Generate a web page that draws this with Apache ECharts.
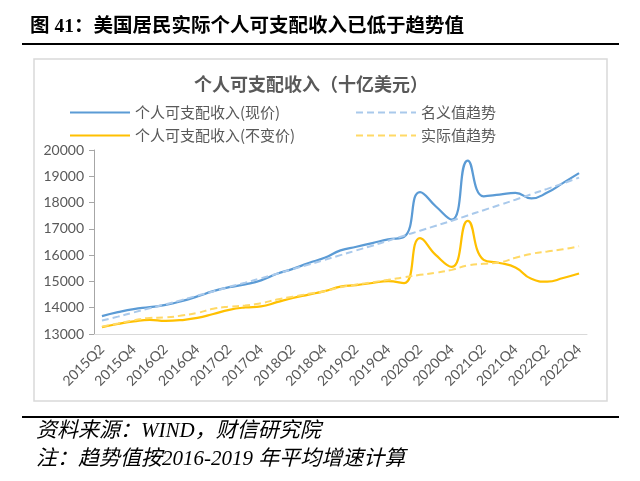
<!DOCTYPE html>
<html><head><meta charset="utf-8">
<script src="https://cdn.jsdelivr.net/npm/echarts@6/dist/echarts.min.js"></script>
<style>html,body{margin:0;padding:0;background:#fff}#c{width:640px;height:481px}</style>
</head><body><div id="c"></div>
<script>
const categories = ['2015Q2','2015Q3','2015Q4','2016Q1','2016Q2','2016Q3','2016Q4','2017Q1','2017Q2','2017Q3','2017Q4',
  '2018Q1','2018Q2','2018Q3','2018Q4','2019Q1','2019Q2','2019Q3','2019Q4','2020Q1','2020Q2','2020Q3','2020Q4',
  '2021Q1','2021Q2','2021Q3','2021Q4','2022Q1','2022Q2','2022Q3','2022Q4'];
const nominal = [13680,13830,13950,14020,14110,14250,14430,14630,14780,14890,15040,15290,15480,15700,15900,16180,
  16320,16460,16600,16700,18400,17850,17350,19600,18240,18300,18370,18160,18380,18750,19120];
const nominalTrend = [13510,13660,13820,13980,14130,14290,14460,14620,14790,14950,15120,15290,15470,15640,15820,16000,
  16180,16360,16550,16740,16930,17120,17310,17510,17710,17910,18110,18320,18520,18730,18950];
const real = [13260,13380,13480,13540,13500,13530,13610,13760,13920,14010,14050,14210,14370,14500,14630,14800,
  14860,14940,15010,14940,16650,16000,15550,17300,15820,15700,15530,15100,14990,15130,15300];
const realTrend = [13280,13400,13520,13610,13630,13700,13800,13960,14040,14080,14170,14310,14420,14530,14630,14780,
  14880,14970,15060,15160,15250,15330,15440,15610,15670,15720,15900,16050,16140,16220,16340];
const yTicks = {min:13000, max:20000, step:1000};
const names = ['个人可支配收入(现价)','名义值趋势','个人可支配收入(不变价)','实际值趋势'];

const CJK = "'Noto Sans CJK SC'";
const serifFont = "'Liberation Serif','Noto Sans CJK SC'";
const legendText = {fontSize:15, color:'#595959', fontFamily:CJK};
const legendBase = {padding:0, itemWidth:60, itemHeight:14, textStyle:legendText, itemStyle:{opacity:0}};
const chart = echarts.init(document.getElementById('c'), null, {renderer:'canvas'});
const option = {
  animation:false,
  backgroundColor:'#fff',
  graphic:[
    {type:'rect', shape:{x:34,y:59,width:573,height:342}, style:{fill:'none', stroke:'#d9d9d9', lineWidth:1.5}, z:-1},
    {type:'text', left:30, top:17, style:{text:'图 41：美国居民实际个人可支配收入已低于趋势值', font:"bold 19.5px "+serifFont, fill:'#000'}},
    {type:'line', shape:{x1:22,y1:44,x2:619,y2:44}, style:{stroke:'#000', lineWidth:2.2}},
    {type:'line', shape:{x1:22,y1:417,x2:619,y2:417}, style:{stroke:'#000', lineWidth:2.2}},
    {type:'text', left:36, top:421, style:{text:'资料来源：WIND，财信研究院', font:"italic 21px "+serifFont, fill:'#000'}},
    {type:'text', left:36, top:449, style:{text:'注：趋势值按2016-2019 年平均增速计算', font:"italic 21px "+serifFont, fill:'#000'}}
  ],
  title:{text:'个人可支配收入（十亿美元）', left:194, top:75, padding:0,
    textStyle:{fontSize:18, fontWeight:'bold', color:'#595959', fontFamily:CJK}},
  legend:[
    Object.assign({left:69, top:105, data:[names[0]]}, legendBase),
    Object.assign({left:355, top:105, data:[names[1]]}, legendBase),
    Object.assign({left:69, top:128, data:[names[2]]}, legendBase),
    Object.assign({left:355, top:128, data:[names[3]]}, legendBase)
  ],
  grid:{left:94, right:53, top:150, bottom:147, containLabel:false},
  xAxis:{type:'category', data:categories, boundaryGap:true,
    axisLine:{lineStyle:{color:'#d9d9d9', width:1}}, axisTick:{show:false},
    axisLabel:{interval:1, rotate:45, fontSize:14, color:'#595959', fontFamily:'Lato', margin:13}},
  yAxis:{type:'value', min:yTicks.min, max:yTicks.max, interval:yTicks.step, splitLine:{show:false},
    axisLine:{show:true, lineStyle:{color:'#a6a6a6'}},
    axisTick:{show:true, length:5, lineStyle:{color:'#a6a6a6'}},
    axisLabel:{color:'#595959', fontSize:14, fontFamily:'Lato', margin:10, formatter:function(v){return String(v);}}},
  series:[
    {name:names[0], type:'line', data:nominal, smooth:true, symbol:'none', lineStyle:{color:'#5B9BD5', width:2.25}, itemStyle:{color:'#5B9BD5'}},
    {name:names[1], type:'line', data:nominalTrend, smooth:true, symbol:'none', lineStyle:{color:'#A9C9EB', width:2, type:[7,4]}, itemStyle:{color:'#A9C9EB'}},
    {name:names[2], type:'line', data:real, smooth:true, symbol:'none', lineStyle:{color:'#FFC000', width:2.25}, itemStyle:{color:'#FFC000'}},
    {name:names[3], type:'line', data:realTrend, smooth:true, symbol:'none', lineStyle:{color:'#FFD966', width:2, type:[7,4]}, itemStyle:{color:'#FFD966'}}
  ]
};
chart.setOption(option);
</script></body></html>
